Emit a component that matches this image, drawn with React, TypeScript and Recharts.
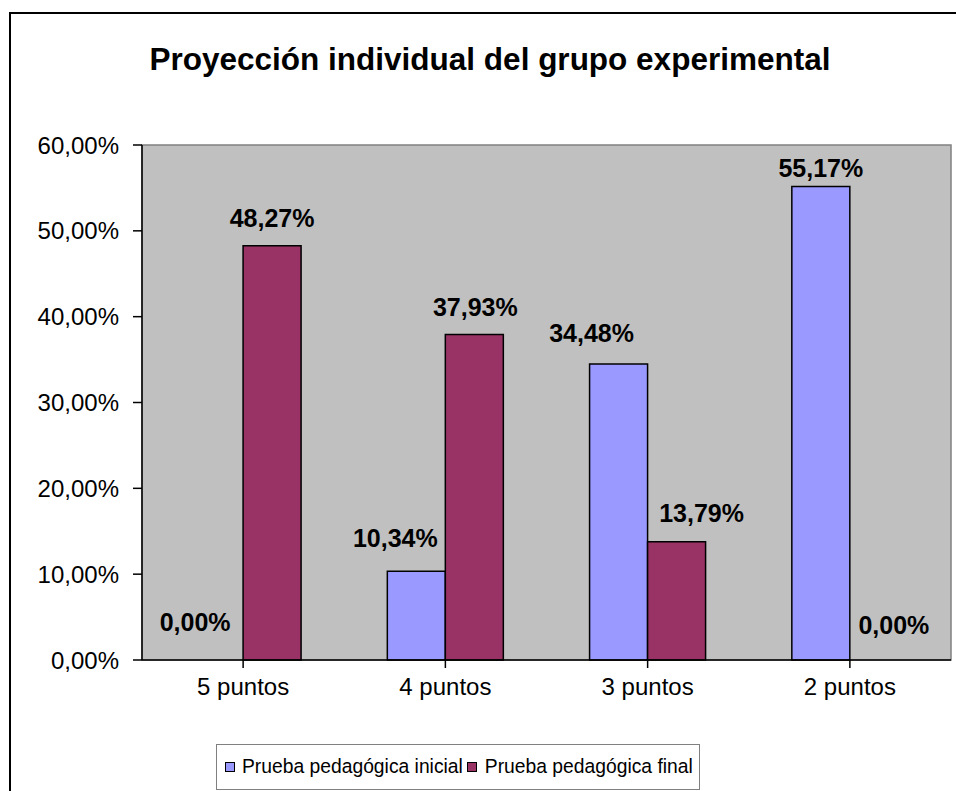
import React from "react";
import { BarChart, Bar, XAxis, YAxis, ReferenceArea, Rectangle } from "recharts";

const categories = ["5 puntos", "4 puntos", "3 puntos", "2 puntos"];
const inicial = [0.0, 10.34, 34.48, 55.17];
const final = [48.27, 37.93, 13.79, 0.0];
const yTicks = [0, 10, 20, 30, 40, 50, 60];
const seriesNames = ["Prueba pedagógica inicial", "Prueba pedagógica final"];

// label nudges (relative to bar top centre), mimicking Excel's placement
const inicialLabelDx = [-19, -21, -27, 0];
const inicialLabelDy = [-37, -33, -31, -18];
const finalLabelDx = [0, 1, 25, 15];
const finalLabelDy = [-28, -27, -29, -34];

const data = categories.map((c, i) => ({ cat: c, inicial: inicial[i], final: final[i] }));

const FONT = "Arial, 'Liberation Sans', sans-serif";
const fmt = (v: number) => v.toFixed(2).replace(".", ",") + "%";

const makeLabel = (dxArr: number[], dyArr: number[]) => (props: any) => {
  const { x, y, width, height, value, index } = props;
  const top = Math.min(Number(y), Number(y) + Number(height || 0));
  const cx = Number(x) + Number(width) / 2 + dxArr[index];
  const cy = top + dyArr[index];
  return (
    <text
      key={"lbl" + index}
      x={cx}
      y={cy}
      textAnchor="middle"
      dominantBaseline="central"
      fontFamily={FONT}
      fontWeight="bold"
      fontSize={25}
      fill="#000"
    >
      {fmt(Number(value))}
    </text>
  );
};

const makeShape = (key: string) => (props: any) => {
  const v = props.payload ? props.payload[key] : props.value;
  if (!v) return <g />;
  return <Rectangle {...props} />;
};

const marker = (color: string) => (
  <span
    style={{
      display: "inline-block",
      flexShrink: 0,
      width: 10,
      height: 10,
      background: color,
      border: "1.5px solid #000",
      boxSizing: "border-box",
    }}
  />
);

export default function App() {
  return (
    <div style={{ position: "absolute", left: 0, top: 0, width: 956, height: 791, overflow: "hidden", background: "#fff" }}>
      <div
        style={{
          position: "absolute",
          left: 9,
          top: 12,
          width: 1000,
          height: 900,
          border: "2px solid #000",
          boxSizing: "border-box",
        }}
      />
      <div
        style={{
          position: "absolute",
          left: 0,
          top: 43,
          width: 980,
          textAlign: "center",
          fontFamily: FONT,
          fontWeight: "bold",
          fontSize: 31.5,
          lineHeight: "32px",
          color: "#000",
          whiteSpace: "nowrap",
        }}
      >
        Proyección individual del grupo experimental
      </div>
      <div style={{ position: "absolute", left: 0, top: 0 }}>
        <BarChart
          width={956}
          height={791}
          data={data}
          margin={{ top: 145, right: 5, left: 12, bottom: 91 }}
          barCategoryGap="21.3%"
          barGap={0}
        >
          <ReferenceArea y1={0} y2={60} fill="#C0C0C0" fillOpacity={1} stroke="#808080" strokeWidth={1.5} />
          <XAxis
            dataKey="cat"
            height={40}
            axisLine={{ stroke: "#000", strokeWidth: 1.5 }}
            tickLine={{ stroke: "#000", strokeWidth: 1.5 }}
            tickSize={8}
            tick={{ fontFamily: FONT, fontSize: 24, fill: "#000" }}
            tickMargin={10}
            interval={0}
          />
          <YAxis
            width={130}
            domain={[0, 60]}
            ticks={yTicks}
            tickFormatter={fmt}
            axisLine={{ stroke: "#000", strokeWidth: 1.5 }}
            tickLine={{ stroke: "#000", strokeWidth: 1.5 }}
            tickSize={9}
            tickMargin={14}
            tick={{ fontFamily: FONT, fontSize: 24, fill: "#000" }}
            interval={0}
          />
          <Bar
            dataKey="inicial"
            name={seriesNames[0]}
            fill="#9999FF"
            stroke="#000"
            strokeWidth={1.5}
            minPointSize={1}
            shape={makeShape("inicial")}
            isAnimationActive={false}
            label={makeLabel(inicialLabelDx, inicialLabelDy)}
          />
          <Bar
            dataKey="final"
            name={seriesNames[1]}
            fill="#993366"
            stroke="#000"
            strokeWidth={1.5}
            minPointSize={1}
            shape={makeShape("final")}
            isAnimationActive={false}
            label={makeLabel(finalLabelDx, finalLabelDy)}
          />
        </BarChart>
      </div>
      <div
        style={{
          position: "absolute",
          left: 216,
          top: 744,
          width: 484,
          height: 46,
          border: "1.5px solid #808080",
          boxSizing: "border-box",
          background: "#fff",
          display: "flex",
          alignItems: "center",
          paddingLeft: 8,
          fontFamily: FONT,
          fontSize: 19.3,
          color: "#000",
          whiteSpace: "nowrap",
        }}
      >
        {marker("#9999FF")}
        <span style={{ marginLeft: 7, marginRight: 4 }}>{seriesNames[0]}</span>
        {marker("#993366")}
        <span style={{ marginLeft: 8 }}>{seriesNames[1]}</span>
      </div>
    </div>
  );
}
